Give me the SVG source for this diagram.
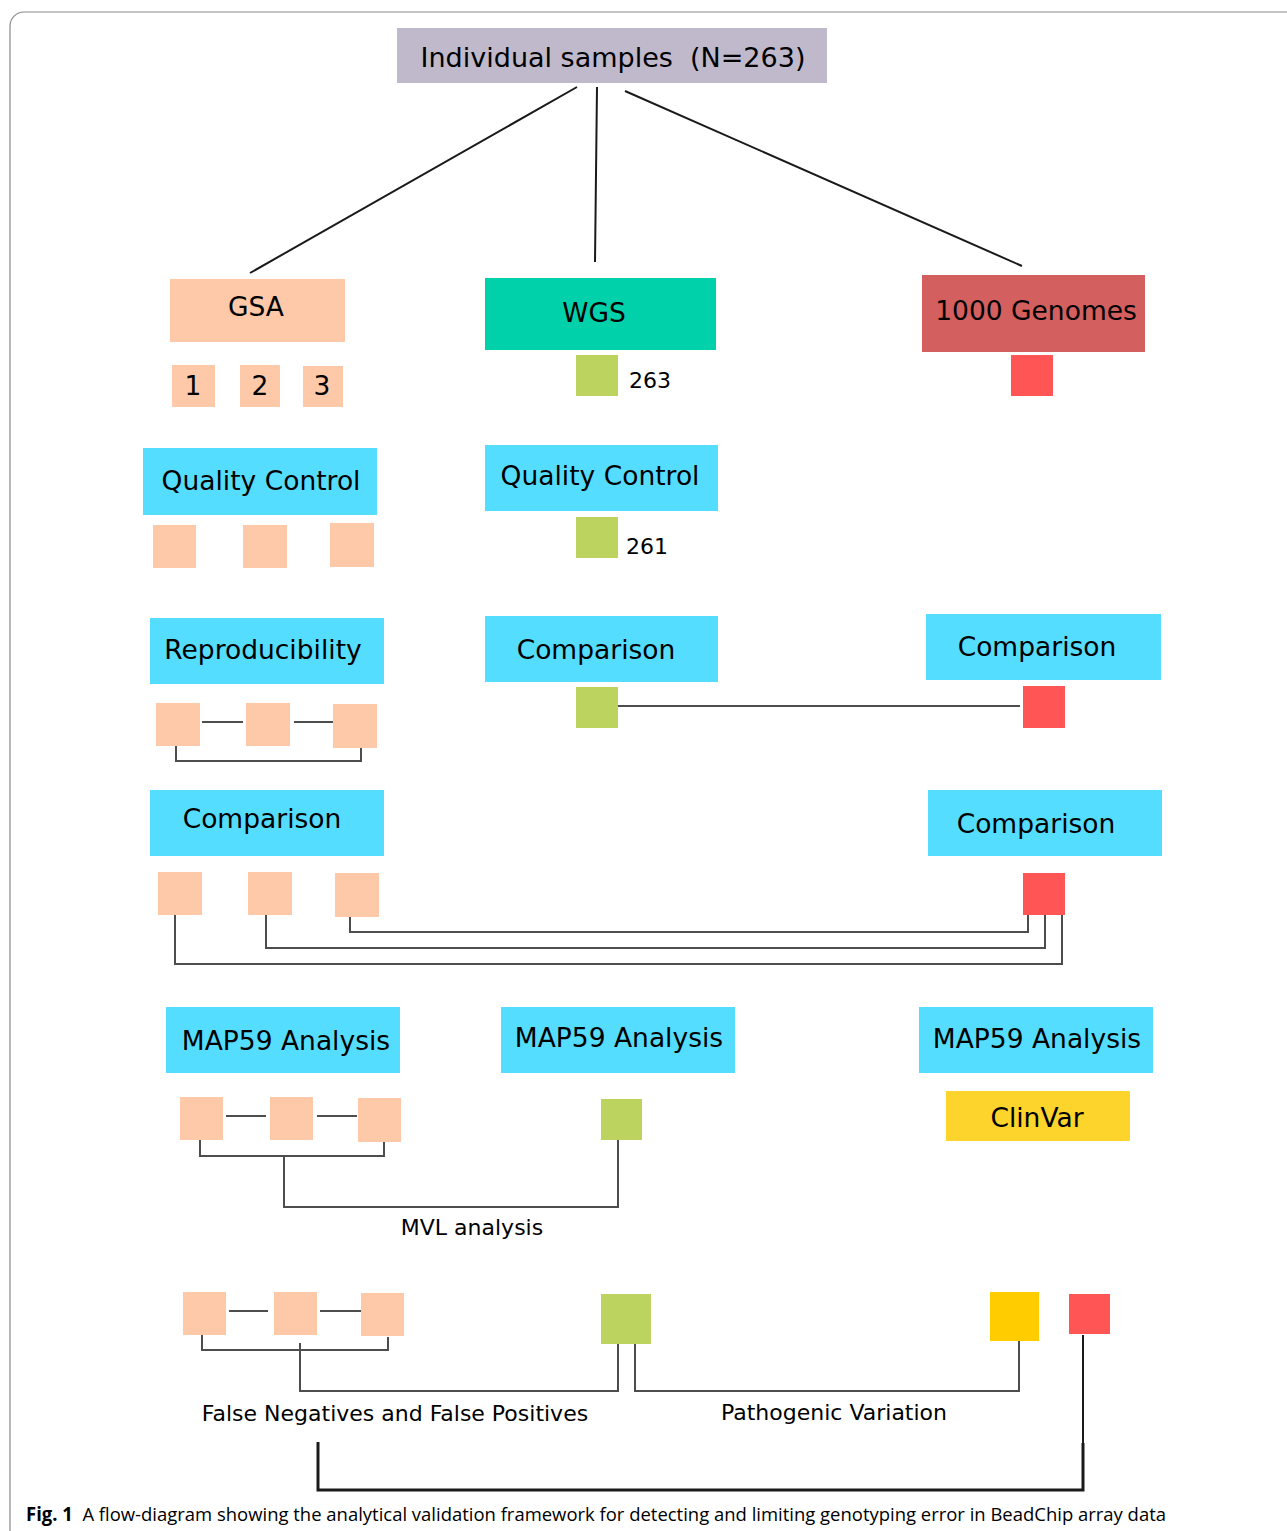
<svg xmlns="http://www.w3.org/2000/svg" width="1287" height="1531" viewBox="0 0 1287 1531">
<style>
.t{font-family:"DejaVu Sans",sans-serif;font-size:26.5px;fill:#000;text-anchor:middle}
.n{font-family:"DejaVu Sans",sans-serif;font-size:22px;fill:#000}
.lab{font-family:"DejaVu Sans",sans-serif;font-size:22px;fill:#000;text-anchor:middle}
.blue{fill:#55ddff}
.peach{fill:#fdc9a8}
.green{fill:#bdd360}
.red{fill:#ff5555}
.c{fill:none;stroke:#4d4d4d;stroke-width:2}
.k{fill:none;stroke:#1a1a1a;stroke-width:2}
</style>
<rect x="10" y="12" width="1300" height="1540" rx="14" fill="#fff" stroke="#8a8a8a" stroke-width="1.2"/>

<g id="connectors">
<path class="k" d="M577 87 L250 273 M597 87 L595 262 M625 91 L1022 266"/>
<path class="c" d="M202 722 H243 M294 722 H335 M176 746 V761 H361 V747"/>
<path class="c" d="M618 706 H1020"/>
<path class="c" d="M350 917 V932 H1028 V915 M266 915 V948 H1045 V915 M175 915 V964 H1062 V915"/>
<path class="c" d="M226 1116 H266 M317 1116 H357 M200 1140 V1156 H384 V1142 M284 1156 V1207 H618 V1140"/>
<path class="c" d="M229 1311 H268 M320 1311 H361 M202 1335 V1350 H388 V1337 M300 1343 V1391 H618 V1344 M635 1344 V1391 H1019 V1341"/>
<path fill="none" stroke="#1a1a1a" stroke-width="3" d="M318 1442 V1490 H1083 V1443"/>
<path fill="none" stroke="#1a1a1a" stroke-width="2" d="M1083 1443 V1335"/>
</g>

<g id="root"><rect x="397" y="28" width="430" height="55" fill="#c0b9cc"/><text class="t" x="613" y="67" style="font-size:27px">Individual samples&#160; (N=263)</text></g>

<g id="gsa"><rect class="peach" x="170" y="279" width="175" height="63"/><text class="t" x="256" y="316">GSA</text></g>
<g id="gsa1"><rect class="peach" x="172" y="365" width="43" height="42"/><text class="t" x="193" y="395">1</text></g>
<g id="gsa2"><rect class="peach" x="240" y="365" width="40" height="42"/><text class="t" x="260" y="395">2</text></g>
<g id="gsa3"><rect class="peach" x="303" y="366" width="40" height="41"/><text class="t" x="322" y="395">3</text></g>

<g id="wgs"><rect x="485" y="278" width="231" height="72" fill="#00d1aa"/><text class="t" x="594" y="322">WGS</text></g>
<g id="wgs263"><rect class="green" x="576" y="355" width="42" height="41"/><text class="n" x="629" y="388">263</text></g>

<g id="g1000"><rect x="922" y="275" width="223" height="77" fill="#d35f5f"/><text class="t" x="1036" y="320">1000 Genomes</text></g>
<g id="g1000sq"><rect class="red" x="1011" y="355" width="42" height="41"/></g>

<g id="qc-gsa"><rect class="blue" x="143" y="448" width="234" height="67"/><text class="t" x="261" y="490">Quality Control</text></g>
<g id="qc-gsa-sq"><rect class="peach" x="153" y="525" width="43" height="43"/><rect class="peach" x="243" y="525" width="44" height="43"/><rect class="peach" x="330" y="523" width="44" height="44"/></g>

<g id="qc-wgs"><rect class="blue" x="485" y="445" width="233" height="66"/><text class="t" x="600" y="485">Quality Control</text></g>
<g id="wgs261"><rect class="green" x="576" y="517" width="42" height="41"/><text class="n" x="626" y="554">261</text></g>

<g id="repro"><rect class="blue" x="150" y="618" width="234" height="66"/><text class="t" x="263" y="659">Reproducibility</text></g>
<g id="repro-sq"><rect class="peach" x="156" y="703" width="44" height="43"/><rect class="peach" x="246" y="703" width="44" height="43"/><rect class="peach" x="333" y="704" width="44" height="44"/></g>

<g id="cmp-wgs"><rect class="blue" x="485" y="616" width="233" height="66"/><text class="t" x="596" y="659">Comparison</text></g>
<g id="cmp-wgs-sq"><rect class="green" x="576" y="687" width="42" height="41"/></g>
<g id="cmp-1000a"><rect class="blue" x="926" y="614" width="235" height="66"/><text class="t" x="1037" y="656">Comparison</text></g>
<g id="cmp-1000a-sq"><rect class="red" x="1023" y="686" width="42" height="42"/></g>

<g id="cmp-gsa"><rect class="blue" x="150" y="790" width="234" height="66"/><text class="t" x="262" y="828">Comparison</text></g>
<g id="cmp-gsa-sq"><rect class="peach" x="158" y="872" width="44" height="43"/><rect class="peach" x="248" y="872" width="44" height="43"/><rect class="peach" x="335" y="873" width="44" height="44"/></g>
<g id="cmp-1000b"><rect class="blue" x="928" y="790" width="234" height="66"/><text class="t" x="1036" y="833">Comparison</text></g>
<g id="cmp-1000b-sq"><rect class="red" x="1023" y="873" width="42" height="42"/></g>

<g id="map-gsa"><rect class="blue" x="166" y="1007" width="234" height="66"/><text class="t" x="286" y="1050">MAP59 Analysis</text></g>
<g id="map-gsa-sq"><rect class="peach" x="180" y="1097" width="43" height="43"/><rect class="peach" x="270" y="1097" width="43" height="43"/><rect class="peach" x="358" y="1098" width="43" height="44"/></g>
<g id="map-wgs"><rect class="blue" x="501" y="1007" width="234" height="66"/><text class="t" x="619" y="1047">MAP59 Analysis</text></g>
<g id="map-wgs-sq"><rect class="green" x="601" y="1099" width="41" height="41"/></g>
<g id="map-1000"><rect class="blue" x="919" y="1007" width="234" height="66"/><text class="t" x="1037" y="1048">MAP59 Analysis</text></g>
<g id="clinvar"><rect x="946" y="1091" width="184" height="50" fill="#fdd42c"/><text class="t" x="1037" y="1127">ClinVar</text></g>

<g id="mvl"><text class="lab" x="472" y="1235">MVL analysis</text></g>

<g id="bot-gsa"><rect class="peach" x="183" y="1292" width="43" height="43"/><rect class="peach" x="274" y="1292" width="43" height="43"/><rect class="peach" x="361" y="1293" width="43" height="43"/></g>
<g id="bot-wgs"><rect class="green" x="601" y="1294" width="50" height="50"/></g>
<g id="bot-clinvar"><rect x="990" y="1292" width="49" height="49" fill="#ffcc00"/></g>
<g id="bot-1000"><rect class="red" x="1069" y="1294" width="41" height="40"/></g>

<g id="fnfp"><text class="lab" x="395" y="1421">False Negatives and False Positives</text></g>
<g id="patho"><text class="lab" x="834" y="1420">Pathogenic Variation</text></g>

<text x="26" y="1521" font-family="'Open Sans',sans-serif" font-size="19" fill="#000" textLength="1140" lengthAdjust="spacingAndGlyphs"><tspan font-weight="bold">Fig. 1</tspan>&#160;&#160;A flow-diagram showing the analytical validation framework for detecting and limiting genotyping error in BeadChip array data</text>
</svg>
